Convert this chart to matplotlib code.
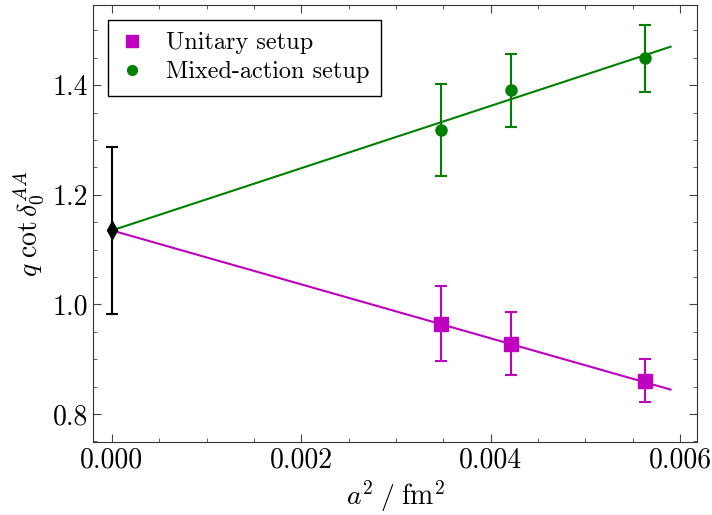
import matplotlib
matplotlib.use("Agg")
import matplotlib.pyplot as plt
from matplotlib.ticker import MultipleLocator, FormatStrFormatter
from matplotlib.lines import Line2D
import numpy as np

plt.rcParams['font.family'] = 'serif'
plt.rcParams['font.serif'] = ['cmr10']
plt.rcParams['mathtext.fontset'] = 'cm'
plt.rcParams['axes.formatter.use_mathtext'] = True
plt.rcParams['axes.unicode_minus'] = False

# lattice spacings a^2 (fm^2)
a2 = [0.00348, 0.00422, 0.00563]

# unitary setup
unit_y = [0.964, 0.928, 0.860]
unit_lo = [0.897, 0.871, 0.822]
unit_hi = [1.033, 0.986, 0.900]

# mixed-action setup
mixed_y = [1.318, 1.391, 1.449]
mixed_lo = [1.234, 1.323, 1.387]
mixed_hi = [1.402, 1.457, 1.509]

# continuum value
cont_y = 1.135
cont_lo = 0.982
cont_hi = 1.287

# fit lines: intercept, slopes
fit_c = 1.135
unit_slope = -49.2
mixed_slope = 56.8
fit_xmax = 0.0059

fig = plt.figure(figsize=(7.12, 5.15), dpi=100)
ax = fig.add_axes([0.1306, 0.1417, 0.979 - 0.1306, 0.990 - 0.1417])

xs = np.array([0.0, fit_xmax])
ax.plot(xs, fit_c + unit_slope * xs, color='m', lw=1.5, zorder=2)
ax.plot(xs, fit_c + mixed_slope * xs, color='g', lw=1.5, zorder=2)

uy = np.array(unit_y)
ax.errorbar(a2, uy, yerr=[uy - np.array(unit_lo), np.array(unit_hi) - uy],
            fmt='s', color='m', ms=10, capsize=4, elinewidth=1.5, capthick=1.5,
            zorder=3)
my = np.array(mixed_y)
ax.errorbar(a2, my, yerr=[my - np.array(mixed_lo), np.array(mixed_hi) - my],
            fmt='o', color='g', ms=8, capsize=4, elinewidth=1.5, capthick=1.5,
            zorder=3)
ax.errorbar([0.0], [cont_y], yerr=[[cont_y - cont_lo], [cont_hi - cont_y]],
            fmt='d', color='k', ms=9, capsize=4, elinewidth=1.5, capthick=1.5,
            zorder=4)

ax.set_xlim(-0.0002, 0.00618)
ax.set_ylim(0.749, 1.546)
ax.xaxis.set_major_locator(MultipleLocator(0.002))
ax.xaxis.set_minor_locator(MultipleLocator(0.0005))
ax.yaxis.set_major_locator(MultipleLocator(0.2))
ax.yaxis.set_minor_locator(MultipleLocator(0.05))
ax.xaxis.set_major_formatter(FormatStrFormatter('%.3f'))
ax.yaxis.set_major_formatter(FormatStrFormatter('%.1f'))
ax.tick_params(which='both', direction='in', top=True, right=True, labelsize=20,
               color='#444444')
ax.tick_params(which='major', length=6)
ax.tick_params(which='minor', length=3)
for sp in ax.spines.values():
    sp.set_color('#333333')

ax.set_xlabel(r'$a^2\;/\;\mathrm{fm}^2$', fontsize=20)
ax.set_ylabel(r'$q\;\mathrm{cot}\,\delta_0^{AA}$', fontsize=20)

handles = [Line2D([], [], ls='none', marker='s', color='m', ms=8),
           Line2D([], [], ls='none', marker='o', color='g', ms=7)]
leg = ax.legend(handles, ['Unitary setup', 'Mixed-action setup'],
                loc='upper left', fontsize=17.5, fancybox=False, edgecolor='k',
                framealpha=1, handlelength=1.0, handletextpad=0.9,
                borderpad=0.5, labelspacing=0.3, borderaxespad=0.6)
leg.get_frame().set_linewidth(1.0)

fig.savefig('out.png', dpi=100)
